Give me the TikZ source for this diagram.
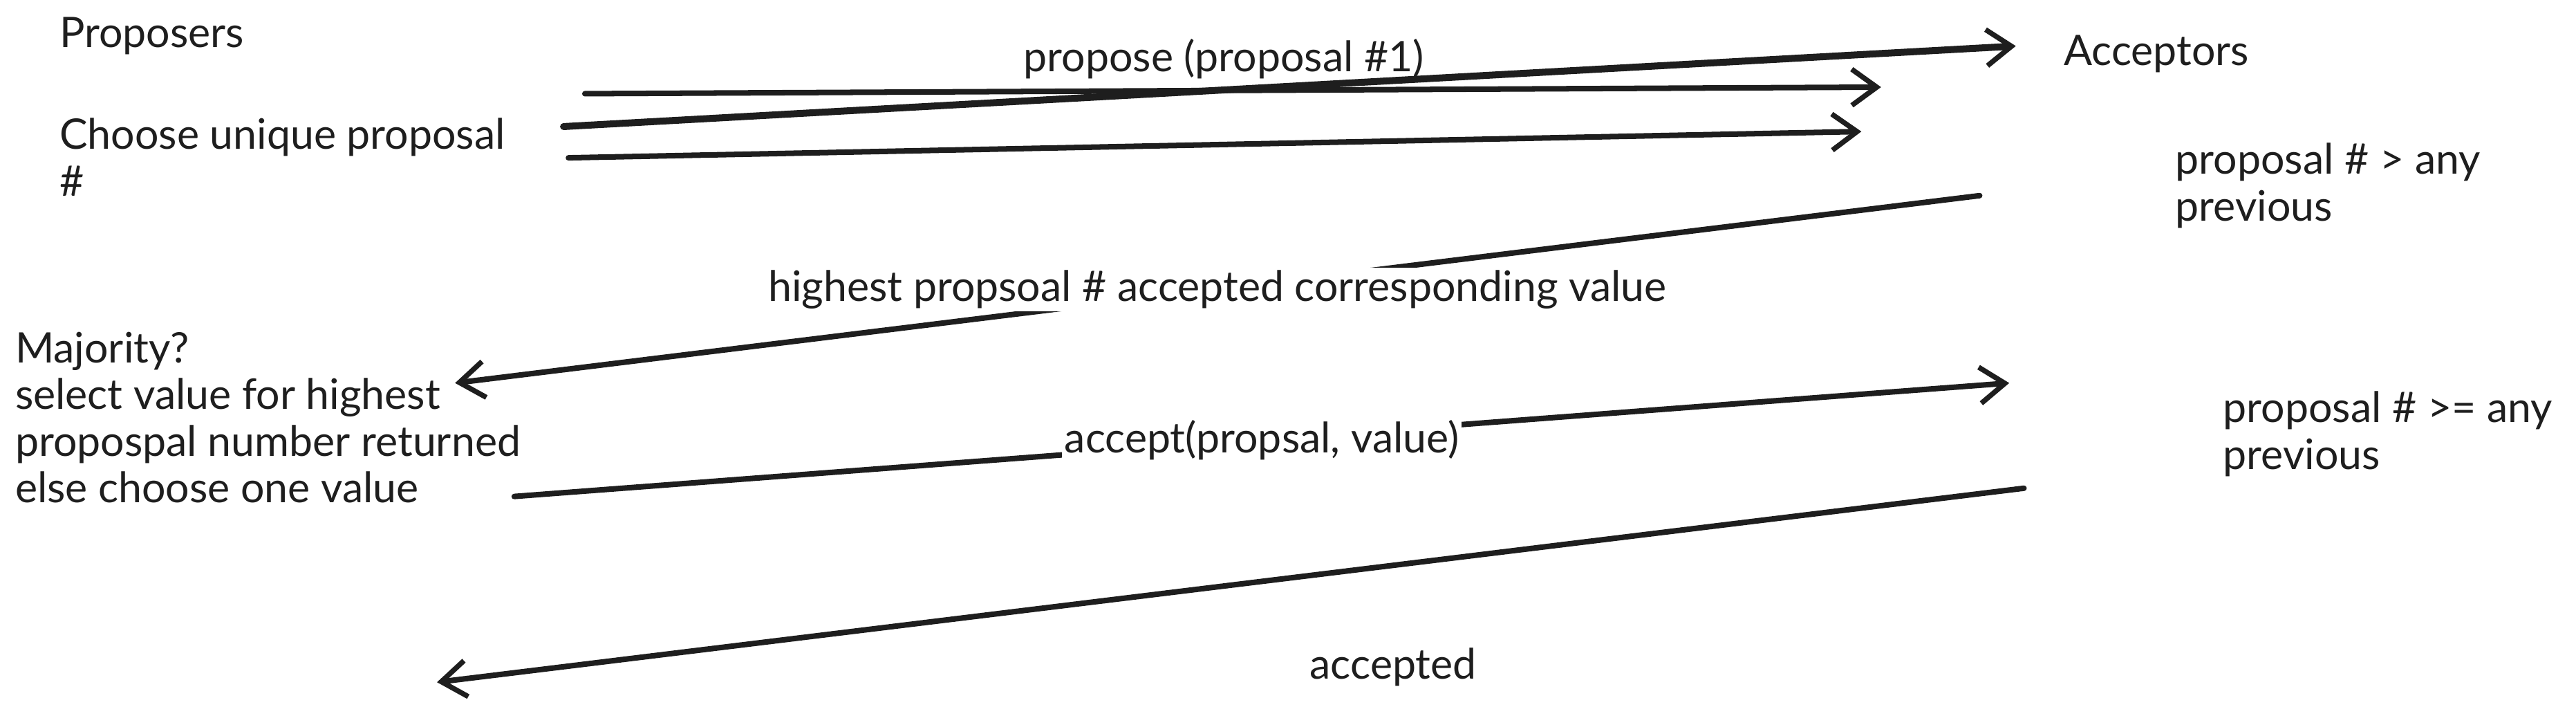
\documentclass[tikz,border=0pt]{standalone}
\usepackage{fontspec}
\setmainfont{Lato}
\usepackage{tikz}
\usetikzlibrary{arrows.meta}
\definecolor{ink}{HTML}{1E1E1E}
\tikzset{
	txt/.style={inner sep=0pt, text=ink, align=left, font=\fontsize{18.2}{20.2}\selectfont},
	msg/.style={draw=ink, line width=2.4pt, line cap=round,
		-{Straight Barb[length=3.8mm, width=5.5mm, line width=2.2pt]}},
	lbl/.style={txt, fill=white, inner xsep=1pt, inner ysep=1pt}
}

\begin{document}
\begin{tikzpicture}[x=0.25mm, y=-0.25mm]
\useasboundingbox (0,0) rectangle (1568,430);
%proposers side
\node[txt, anchor=west] (prop) at (36,22) {Proposers};
\node[txt, anchor=west] (choose) at (36,95.5) {Choose unique proposal\\\#};
\node[txt, anchor=west] (major) at (9,254) {Majority?\\select value for highest\\propospal number returned\\else choose one value};
%acceptors side
\node[txt, anchor=west] (acc) at (1256,33) {Acceptors};
\node[txt, anchor=west] (gt) at (1324,113) {proposal \# > any\\previous};
\node[txt, anchor=west] (ge) at (1353,264) {proposal \# >= any\\previous};
%prepare
\coordinate (p1a) at (356,57);   \coordinate (p1b) at (1145,53);
\coordinate (p2a) at (343,77);   \coordinate (p2b) at (1227,28);
\coordinate (p3a) at (346,96);   \coordinate (p3b) at (1133,80);
\draw[msg] (p1a) -- (p1b);
\draw[msg, line width=3pt] (p2a) -- (p2b);
\draw[msg] (p3a) -- (p3b);
\node[txt] (propose) at (745,36) {propose (proposal \#1)};
%promise
\coordinate (r1a) at (1205,119); \coordinate (r1b) at (277,233);
\draw[msg] (r1a) -- node[lbl] (high) {highest propsoal \# accepted corresponding value} (r1b);
%accept
\coordinate (c1a) at (313,302);  \coordinate (c1b) at (1223,233);
\draw[msg] (c1a) -- node[lbl] (accept) {accept(propsal, value)} (c1b);
%accepted
\coordinate (d1a) at (1232,297); \coordinate (d1b) at (266,415);
\draw[msg] (d1a) -- (d1b);
\node[txt] (done) at (848,406) {accepted};
\end{tikzpicture}
\end{document}
